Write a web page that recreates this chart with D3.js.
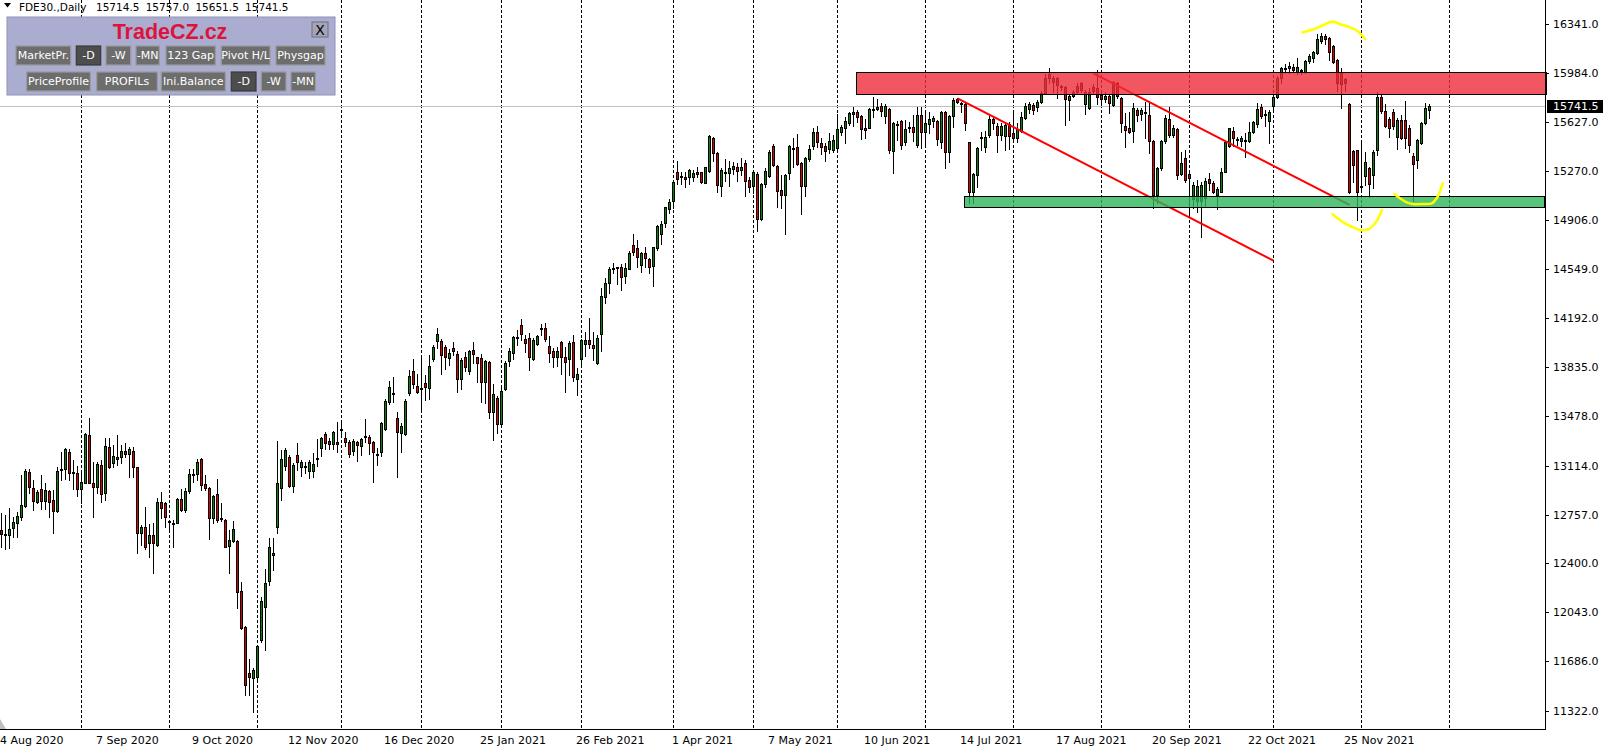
<!DOCTYPE html>
<html><head><meta charset="utf-8">
<script src="https://cdn.jsdelivr.net/npm/d3@7"></script>
<style>html,body{margin:0;padding:0;background:#fff;overflow:hidden}</style>
</head><body><svg id="c" width="1611" height="753"></svg>
<script>
// ---------- DATA ----------
const opens = [12644,12615,12610,12656,12698,12742,12820,13070,12949,12851,12941,12859,12929,12863,12786,13083,13087,13217,13066,13058,
12941,12990,13338,12990,12956,13119,12917,13248,13131,13165,13175,13221,13197,13221,13102,12620,12669,12552,12608,12532,
12851,12839,12710,12693,12698,12868,12790,12932,13044,13051,13161,12978,12949,12729,12905,12732,12717,12527,12566,12566,
12199,11938,11597,11561,11568,11841,12084,12274,12459,12664,12949,13112,13180,12968,13192,13107,13102,13078,13078,13165,
13241,13343,13297,13270,13285,13382,13319,13285,13221,13290,13260,13321,13326,13285,13199,13212,13382,13582,13638,13460,
13350,13343,13648,13806,13696,13679,13716,13679,13894,14028,14025,13981,13903,13974,13930,13745,13906,13808,13957,13906,
13898,13723,13874,13509,13611,13416,13674,13881,13935,14045,14142,14037,14045,13894,14003,14113,14118,13989,13952,13911,
14015,13911,13894,14020,13747,13891,14006,14030,13993,13862,14074,14349,14447,14549,14561,14563,14500,14554,14727,14702,
14580,14666,14622,14576,14707,14804,14885,14990,15050,15257,15226,15226,15221,15226,15245,15257,15182,15270,15506,15396,
15160,15250,15250,15284,15294,15274,15323,15201,15158,15245,14914,15170,15233,15450,15304,15128,15092,15255,15425,15440,
15323,15160,15352,15452,15550,15469,15450,15425,15421,15433,15555,15584,15615,15681,15696,15669,15579,15584,15713,15718,
15742,15669,15718,15416,15606,15632,15477,15584,15591,15457,15676,15550,15608,15632,15632,15477,15696,15408,15669,15791,
15761,15754,15476,15116,15238,15506,15445,15530,15647,15598,15530,15525,15608,15542,15506,15559,15657,15720,15749,15737,
15769,15834,15973,15944,15944,15886,15883,15786,15817,15890,15907,15754,15730,15883,15871,15822,15793,15817,15749,15907,
15803,15598,15584,15559,15713,15681,15701,15676,15486,15092,15287,15486,15647,15530,15574,15243,15360,15243,15060,15048,
15048,15072,15209,15177,15092,15116,15262,15452,15559,15498,15486,15491,15486,15550,15608,15737,15681,15632,15744,15810,
15949,16015,16017,16029,15988,16002,15988,16071,16095,16127,16217,16256,16236,16180,16078,15981,15939,15754,15413,15421,
15150,15233,15287,15238,15421,15810,15705,15647,15696,15518,15640,15640,15579,15379,15347,15469,15615,15714.5];
const highs = [12766,12754,12803,12742,12778,13046,13090,13090,13010,12937,13046,12990,12937,12937,13102,13217,13241,13234,13156,13112,
13058,13355,13460,13143,13143,13156,13314,13314,13265,13338,13265,13277,13253,13253,13107,12681,12815,12686,12693,12876,
12924,12851,12717,12717,12876,12944,12949,13090,13090,13161,13168,13046,12961,12900,13017,12839,12722,12644,12710,12571,
12267,11945,11699,11634,11804,12157,12357,12583,12583,13294,13229,13241,13192,13131,13277,13156,13143,13156,13204,13307,
13321,13363,13314,13370,13436,13436,13363,13302,13307,13294,13314,13453,13338,13294,13241,13436,13601,13733,13760,13509,
13428,13601,13813,13894,13784,13923,13777,13923,13996,14118,14037,13993,13967,14018,13954,13903,13947,13962,14018,13911,
13930,13886,13879,13708,13623,13704,13879,13971,14062,14105,14183,14069,14081,14049,14069,14149,14154,14062,13971,13984,
14025,13984,14025,14069,13825,14037,14093,14191,14093,14069,14410,14483,14563,14593,14568,14588,14593,14683,14807,14763,
14678,14714,14629,14714,14873,14904,15007,15060,15197,15340,15262,15262,15279,15274,15294,15262,15299,15530,15513,15408,
15287,15352,15340,15335,15323,15360,15348,15221,15274,15262,15182,15287,15421,15464,15311,15238,15245,15457,15506,15537,
15335,15372,15457,15584,15596,15506,15469,15547,15530,15681,15603,15664,15701,15737,15713,15674,15645,15725,15805,15791,
15762,15757,15725,15628,15635,15640,15640,15627,15676,15737,15737,15701,15701,15671,15640,15705,15705,15676,15798,15803,
15774,15761,15476,15250,15445,15554,15559,15676,15664,15615,15615,15627,15627,15688,15615,15701,15761,15774,15761,15786,
15851,15973,16017,15964,15956,15895,15890,15827,15859,15907,15920,15859,15871,15900,16005,15834,15842,15827,15925,15920,
15810,15688,15696,15761,15725,15725,15774,15774,15494,15299,15494,15676,15737,15603,15579,15408,15421,15250,15189,15201,
15189,15214,15250,15194,15153,15287,15486,15584,15591,15518,15525,15542,15623,15632,15761,15754,15713,15713,15822,15963,
16029,16046,16066,16046,16095,16012,16078,16119,16144,16265,16273,16265,16248,16188,16085,16017,15949,15761,15421,15421,
15494,15403,15299,15421,15842,15822,15754,15664,15720,15652,15676,15778,15603,15396,15501,15623,15761,15757];
const lows = [12522,12508,12510,12596,12596,12717,12815,12912,12790,12839,12795,12795,12737,12625,12778,13010,13014,13010,12941,12893,
12839,12985,12985,12742,12912,12851,12863,13095,13107,13119,13131,13180,13029,13034,12479,12535,12503,12450,12328,12527,
12729,12669,12632,12522,12693,12786,12778,12917,12997,13010,12937,12937,12579,12693,12705,12712,12518,12328,12559,12077,
11919,11439,11439,11318,11536,11829,11768,12242,12352,12620,12863,13083,12961,12924,13083,13039,13058,13027,13029,13112,
13185,13234,13234,13234,13217,13326,13258,13175,13192,13151,13192,13290,13199,12997,13119,13185,13375,13565,13582,13029,
13217,13338,13631,13679,13648,13521,13594,13599,13881,13972,13784,13821,13850,13923,13655,13674,13808,13782,13862,13728,
13582,13575,13460,13302,13355,13411,13667,13842,13894,13996,14032,13947,13813,13886,13996,14069,14025,13874,13838,13842,
13784,13655,13777,13735,13631,13842,13915,13971,13886,13857,13954,14300,14378,14520,14442,14398,14447,14549,14654,14568,
14532,14568,14520,14430,14690,14732,14861,14963,14994,15172,15172,15153,15172,15197,15221,15177,15177,15262,15343,15116,
15087,15197,15158,15245,15197,15238,15085,15116,15104,14831,14909,15153,15226,15304,15002,14994,14804,15206,15299,15311,
14951,15087,15343,15425,15445,15391,15343,15396,15408,15425,15530,15469,15603,15598,15623,15498,15506,15579,15664,15713,
15669,15615,15401,15255,15494,15428,15457,15554,15486,15445,15438,15457,15542,15591,15457,15438,15287,15335,15591,15761,
15701,15567,15031,15031,15153,15420,15408,15518,15574,15403,15494,15420,15428,15476,15476,15550,15647,15688,15681,15705,
15761,15827,15907,15842,15798,15859,15603,15640,15810,15827,15847,15681,15720,15827,15754,15749,15769,15688,15744,15803,
15554,15445,15542,15481,15632,15640,15511,15396,14994,15031,15274,15469,15518,15518,15209,15238,15189,14950,14994,14970,
14787,15007,15128,15104,14990,15111,15257,15445,15452,15457,15452,15372,15477,15542,15591,15657,15598,15474,15696,15803,
15907,15981,15981,15988,15973,15973,15981,16054,16066,16119,16200,16192,16078,16054,15852,15730,15852,15104,15189,14909,
15116,15165,15080,15140,15384,15688,15591,15518,15574,15428,15501,15433,15403,15048,15286,15462,15608,15651.5];
const closes = [12615,12610,12649,12700,12747,12827,13075,12956,12859,12924,12859,12937,12851,12786,13075,13090,13234,13063,13061,12941,
12995,13346,12990,12961,13126,12905,13258,13102,13185,13175,13224,13197,13236,13102,12620,12669,12518,12608,12552,12846,
12803,12737,12700,12686,12868,12790,12929,13051,13051,13143,12973,12949,12729,12893,12717,12722,12522,12571,12649,12194,
11926,11512,11573,11622,11797,12128,12260,12522,12474,12985,13163,13229,12968,13119,13143,13143,13112,13139,13124,13173,
13314,13282,13270,13358,13270,13377,13290,13197,13294,13265,13307,13329,13282,13212,13195,13428,13587,13687,13648,13358,
13404,13587,13769,13708,13655,13672,13691,13842,13981,14076,13925,13911,13937,13954,13747,13886,13838,13952,13928,13862,
13723,13879,13509,13635,13416,13660,13862,13952,14052,14052,14074,14013,13911,14032,14062,14122,14040,13940,13911,13954,
13911,13874,14013,13765,13782,14030,14030,14006,13976,14045,14354,14447,14549,14556,14563,14495,14556,14666,14678,14641,
14666,14629,14563,14710,14865,14878,15002,15038,15184,15206,15231,15206,15274,15250,15262,15189,15294,15523,15396,15165,
15274,15257,15287,15304,15270,15294,15197,15148,15262,14914,15172,15267,15408,15311,15123,15092,15238,15450,15433,15318,
15160,15360,15428,15550,15477,15445,15416,15486,15494,15574,15591,15632,15693,15701,15664,15572,15567,15718,15720,15737,
15708,15742,15421,15620,15610,15457,15574,15591,15554,15676,15550,15615,15647,15657,15501,15696,15403,15669,15786,15769,
15754,15620,15116,15245,15433,15515,15518,15647,15615,15530,15598,15603,15525,15506,15574,15664,15742,15754,15713,15769,
15834,15949,15944,15920,15895,15881,15793,15817,15842,15847,15859,15842,15842,15854,15810,15793,15817,15761,15915,15817,
15615,15567,15550,15730,15676,15713,15688,15486,15092,15287,15486,15652,15530,15579,15238,15323,15201,15218,15165,15160,
15165,15196,15177,15116,15136,15262,15481,15579,15511,15503,15506,15496,15550,15623,15720,15671,15674,15700,15810,15944,
16017,16020,16037,16005,16029,16007,16071,16110,16134,16231,16256,16231,16139,16061,15907,15900,15907,15111,15311,15111,
15155,15335,15170,15408,15810,15705,15598,15584,15598,15640,15511,15511,15457,15316,15494,15615,15725,15741.5];

const dateLabels = ["4 Aug 2020","7 Sep 2020","9 Oct 2020","12 Nov 2020","16 Dec 2020","25 Jan 2021","26 Feb 2021","1 Apr 2021",
  "7 May 2021","10 Jun 2021","14 Jul 2021","17 Aug 2021","20 Sep 2021","22 Oct 2021","25 Nov 2021"];
const dateLabelBars = [0,24,48,72,96,120,144,168,192,216,240,264,288,312,336];
const gridBars = [20,42,64,85,105,125,145,168,188,209,231,253,275,297,318,340,362];
const priceTicks = [16341,15984,15627,15270,14906,14549,14192,13835,13478,13114,12757,12400,12043,11686,11322];
const lastPrice = 15741.5;
const headerSymbol = "FDE30.,Daily";
const headerOHLC = ["15714.5","15757.0","15651.5","15741.5"];
// zones: [startBar, endBar, topPrice, bottomPrice]
const resistanceZone = [213.6, 400, 15987, 15833];
const supportZone = [240.6, 400, 15081, 15002];
// trend lines: [bar, price] pairs
const trendLine1 = [[239, 15798], [318, 14612]];
const trendLine2 = [[273, 15981], [337, 15019]];
// freehand highlight strokes: [bar, price]
const markTop = [[325.3,16280],[328.0,16302],[330.5,16334],[332.8,16358],[334.6,16341],[337.1,16317],[339.2,16285],[340.9,16231]];
const markBottom = [[332.8,14951],[334.2,14916],[335.9,14885],[337.6,14860],[339.6,14836],[341.7,14841],[343.4,14885],[344.6,14946],[345.1,14982]];
const markRight = [[348.2,15099],[349.6,15068],[351.3,15038],[352.9,15026],[355.5,15026],[357.6,15031],[358.8,15068],[359.6,15116],[360.3,15177]];
const panelTitle = "TradeCZ.cz";
const buttonLabels = ["MarketPr.","-D","-W","-MN","123 Gap","Pivot H/L","Physgap","PriceProfile","PROFILs","Ini.Balance","-D","-W","-MN"];

// ---------- LAYOUT ----------
const PW = 1545, PB = 729;
const FONT = "'DejaVu Sans', Verdana, sans-serif";
const svg = d3.select("#c");
const x = d3.scaleLinear().domain([0, 357]).range([1.5, 1429.5]);
const y = d3.scaleLinear().domain([11322, 16341]).range([711, 24]);
const bull = "#0a820a", bear = "#dd0000";

svg.append("rect").attr("width",1611).attr("height",753).attr("fill","#fff");
svg.append("defs").append("clipPath").attr("id","plot").append("rect").attr("x",0).attr("y",0).attr("width",PW).attr("height",PB);
const plot = svg.append("g").attr("clip-path","url(#plot)");

// vertical grid
plot.append("g").selectAll("line").data(gridBars).join("line")
  .attr("x1",d=>x(d)).attr("x2",d=>x(d)).attr("y1",0).attr("y2",PB)
  .attr("stroke","#000").attr("stroke-width",1).attr("stroke-dasharray","3,2").attr("shape-rendering","crispEdges");

// last price line
plot.append("line").attr("x1",0).attr("x2",PW).attr("y1",Math.round(y(lastPrice))+0.5).attr("y2",Math.round(y(lastPrice))+0.5)
  .attr("stroke","#c0c0c0").attr("stroke-width",1);

// candles
const bars = d3.range(opens.length).map(i=>({i,o:opens[i],h:highs[i],l:lows[i],c:closes[i]}));
const cg = plot.append("g").attr("shape-rendering","crispEdges");
cg.selectAll("line").data(bars).join("line")
  .attr("x1",d=>x(d.i)).attr("x2",d=>x(d.i))
  .attr("y1",d=>Math.round(y(d.h))).attr("y2",d=>Math.round(y(d.l))+1)
  .attr("stroke","#000").attr("stroke-width",1);
bars.forEach(d=>{
  const t = Math.round(y(Math.max(d.o,d.c))), b = Math.round(y(Math.min(d.o,d.c)));
  const h = Math.max(b-t,1)+1;
  cg.append("rect").attr("x",x(d.i)-1.5).attr("y",t).attr("width",3).attr("height",h).attr("fill","#000");
  if (h>2) cg.append("rect").attr("x",x(d.i)-0.5).attr("y",t+1).attr("width",1).attr("height",h-2)
     .attr("fill", d.c>=d.o?bull:bear);
});

// trend lines
const lineGen = d3.line().x(d=>x(d[0])).y(d=>y(d[1]));
[trendLine1,trendLine2].forEach(l=>{
  plot.append("path").attr("d",lineGen(l)).attr("fill","none").attr("stroke","#ff0000").attr("stroke-width",2);
});

// zones
function zone(z, base){
  const x0 = Math.round(x(z[0])), x1 = Math.min(Math.round(x(z[1])), PW+2);
  const y0 = Math.round(y(z[2])), y1 = Math.round(y(z[3]));
  svg.append("rect").attr("x",x0).attr("y",y0).attr("width",x1-x0).attr("height",y1-y0)
    .attr("fill",base).attr("fill-opacity",0.8);
  svg.append("rect").attr("x",x0+0.5).attr("y",y0+0.5).attr("width",x1-x0-1).attr("height",y1-y0)
    .attr("fill","none").attr("stroke","#000").attr("stroke-width",1);
}
zone([resistanceZone[0], 386.5, resistanceZone[2], resistanceZone[3]], "rgb(239,44,56)");
zone([supportZone[0], 385.9, supportZone[2], supportZone[3]], "rgb(44,181,89)");

// yellow marks
const curve = d3.line().x(d=>x(d[0])).y(d=>y(d[1])).curve(d3.curveCatmullRom);
[markTop,markBottom,markRight].forEach(m=>{
  svg.append("path").attr("d",curve(m)).attr("fill","none").attr("stroke","#ffff00")
    .attr("stroke-width",2.6).attr("stroke-linecap","round");
});

// frame
svg.append("line").attr("x1",PW+0.5).attr("x2",PW+0.5).attr("y1",0).attr("y2",PB+1).attr("stroke","#000");
svg.append("line").attr("x1",0).attr("x2",PW+1).attr("y1",PB+0.5).attr("y2",PB+0.5).attr("stroke","#000");
svg.append("path").attr("d","M0,719L0,729L6,729Z").attr("fill","#c0c0c0");

// price axis
const ya = svg.append("g");
priceTicks.forEach(p=>{
  const yy = Math.round(y(p))+0.5;
  ya.append("line").attr("x1",PW).attr("x2",PW+4).attr("y1",yy).attr("y2",yy).attr("stroke","#000");
  ya.append("text").attr("x",1553).attr("y",yy).attr("dy","0.36em").attr("font-family",FONT).attr("font-size",11)
    .attr("fill","#000").text(p.toFixed(1));
});
const ly = Math.round(y(lastPrice));
svg.append("rect").attr("x",1547).attr("y",ly-6).attr("width",56).attr("height",13).attr("fill","#000");
svg.append("text").attr("x",1553).attr("y",ly+0.5).attr("dy","0.36em").attr("font-family",FONT).attr("font-size",11)
  .attr("fill","#fff").text(lastPrice.toFixed(1));

// time axis
dateLabels.forEach((t,k)=>{
  svg.append("text").attr("x",x(dateLabelBars[k])-1.5).attr("y",744).attr("font-family",FONT).attr("font-size",11)
    .attr("fill","#000").text(t);
});

// panel
const panel = svg.append("g");
panel.append("rect").attr("x",7).attr("y",17).attr("width",328).attr("height",78).attr("fill","#aaacd0").attr("stroke","#8f91b6");
panel.append("text").attr("x",170).attr("y",38.5).attr("text-anchor","middle").attr("font-family","'Liberation Sans', Arial, sans-serif")
  .attr("font-weight","bold").attr("font-size",21.5).attr("fill","#dc143c").text(panelTitle);
panel.append("rect").attr("x",312).attr("y",22).attr("width",16).attr("height",15).attr("fill","#a4a4b8").attr("stroke","#6e6e80");
panel.append("text").attr("x",320).attr("y",34.5).attr("text-anchor","middle").attr("font-family",FONT).attr("font-size",14).attr("fill","#000").text("X");
const btnBox = [[16,70.7,0],[76.3,100.7,0],[106,130.7,0],[136,159.3,0],[166,215.3,0],[221.3,270,0],[276,325,0],
  [26.7,90.3,1],[96.7,157.3,1],[161.3,225.3,1],[231.3,256,1],[261.3,286,1],[291,315.3,1]];
const pressed = [1,10];
const defs = svg.select("defs");
buttonLabels.forEach((lab,k)=>{
  const [a,b,r] = btnBox[k];
  const top = r===0?46:72, h = 19;
  const id = "bc"+k;
  defs.append("clipPath").attr("id",id).append("rect").attr("x",a).attr("y",top).attr("width",b-a).attr("height",h);
  const on = pressed.includes(k);
  panel.append("rect").attr("x",a).attr("y",top).attr("width",b-a).attr("height",h)
    .attr("fill",on?"#4d4d4d":"#6d6d6d").attr("stroke",on?"#3a3a3a":"#9b9b9b").attr("stroke-width",1.2);
  panel.append("text").attr("clip-path",`url(#${id})`).attr("x",(a+b)/2).attr("y",top+h/2).attr("dy","0.36em")
    .attr("text-anchor","middle").attr("font-family",FONT).attr("font-size",11).attr("fill","#fff").text(lab);
});

// header
svg.append("path").attr("d","M4,3L11,3L7.5,7.5Z").attr("fill","#000");
svg.append("text").attr("x",19).attr("y",10.5).attr("font-family",FONT).attr("font-size",10.5).attr("fill","#000").text(headerSymbol);
headerOHLC.forEach((v,k)=>{
  svg.append("text").attr("x",96+k*49.7).attr("y",10.5).attr("font-family",FONT).attr("font-size",10.5).attr("fill","#000").text(v);
});
</script>
</body></html>
